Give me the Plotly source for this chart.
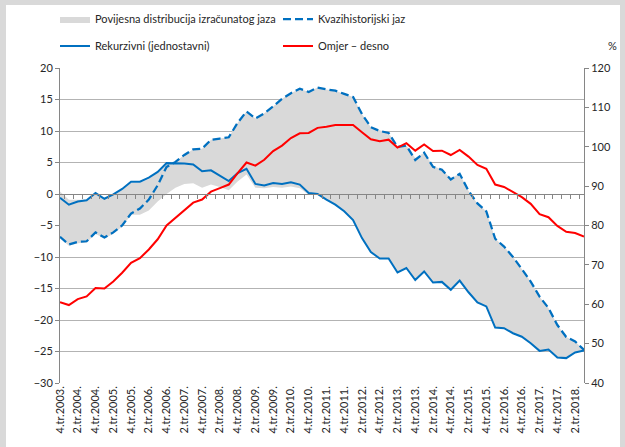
import plotly.graph_objects as go

# Quarters 4.tr.2003. .. 3.tr.2018.
quarters = []
for y in range(2003, 2019):
    for q in range(1, 5):
        if (y == 2003 and q < 4) or (y == 2018 and q > 3):
            continue
        quarters.append(f"{q}.tr.{y}.")

tick_labels = quarters[::2]

rekurzivni = [-0.6, -1.7, -1.2, -1.0, 0.15, -0.75, -0.05, 0.8, 1.95, 1.95,
              2.6, 3.5, 4.9, 4.9, 4.85, 4.7, 3.6, 3.75, 2.85, 2.05,
              3.3, 4.0, 1.6, 1.35, 1.75, 1.6, 1.85, 1.5, 0.15, 0.0,
              -0.9, -1.7, -2.75, -4.15, -7.0, -9.2, -10.25, -10.25, -12.45, -11.75,
              -13.65, -12.3, -14.05, -13.95, -15.2, -13.75, -15.6, -17.2, -17.85, -21.2,
              -21.3, -22.1, -22.65, -23.7, -24.9, -24.7, -25.95, -26.05, -25.15, -24.85]

kvazihistorijski = [-6.8, -8.0, -7.6, -7.5, -6.1, -6.9, -6.1, -5.0, -3.1, -2.3,
                    -0.9, 1.4, 4.3, 5.1, 6.2, 7.1, 7.2, 8.6, 8.8, 9.0,
                    11.3, 13.1, 12.0, 12.8, 13.9, 15.1, 16.0, 16.7, 16.2, 16.9,
                    16.6, 16.4, 15.9, 15.4, 12.7, 10.6, 10.0, 9.7, 7.45, 7.7,
                    5.4, 6.55, 4.3, 3.85, 2.3, 3.2, 0.5, -1.5, -2.75, -7.1,
                    -8.35, -10.0, -11.9, -13.9, -16.3, -18.1, -20.8, -22.7, -23.4, -24.75]

omjer = [60.5, 59.8, 61.3, 62.0, 64.1, 64.0, 65.8, 68.0, 70.5, 71.7,
         73.9, 76.5, 80.0, 81.9, 83.8, 85.8, 86.6, 88.6, 89.5, 90.4,
         93.3, 96.0, 95.2, 96.7, 98.9, 100.3, 102.2, 103.4, 103.5, 104.8,
         105.1, 105.5, 105.5, 105.5, 103.7, 101.9, 101.4, 101.8, 99.8, 100.9,
         99.0, 100.6, 98.9, 99.0, 97.9, 99.2, 97.5, 95.4, 94.4, 90.4,
         89.8, 88.4, 87.2, 85.5, 82.9, 82.1, 79.9, 78.4, 78.1, 77.2]

band_upper = [0.4, -0.9, -0.9, -0.9, 0.1, -0.7, -0.1, 0.7, 1.8, 1.8,
              2.4, 3.4, 4.9, 5.1, 6.2, 7.1, 7.2, 8.6, 8.8, 9.0,
              11.3, 13.1, 12.0, 12.8, 13.9, 15.1, 16.0, 16.7, 16.2, 16.9,
              16.6, 16.4, 15.9, 15.4, 12.7, 10.6, 10.1, 9.7, 7.6, 7.7,
              5.7, 6.55, 4.5, 3.85, 2.5, 3.2, 0.5, -1.5, -2.75, -7.1,
              -8.35, -10.0, -11.9, -13.9, -16.3, -18.1, -20.8, -22.7, -23.4, -24.75]

band_lower = [-7.0, -8.2, -7.8, -7.7, -6.3, -7.1, -6.3, -5.2, -3.3, -3.3,
              -2.6, -1.2, 0.0, 1.0, 1.6, 1.7, 1.0, 1.5, 1.1, 0.6,
              2.0, 3.1, 1.0, 0.9, 1.1, 1.0, 1.2, 0.9, -0.1, -0.1,
              -0.9, -1.7, -2.75, -4.15, -7.0, -9.2, -10.25, -10.25, -12.45, -11.75,
              -13.65, -12.3, -14.05, -13.95, -15.2, -13.75, -15.6, -17.2, -17.85, -21.2,
              -21.3, -22.1, -22.65, -23.7, -24.9, -24.7, -25.95, -26.05, -25.15, -24.85]

FONT = "Lato"
BLUE = "#0070c0"
RED = "#ff0000"
GRAY_BAND = "#d9d9d9"
AXIS = "#868686"
GRID = "#b3b3b3"
TXT = "#262626"

fig = go.Figure()

fig.add_trace(go.Scatter(x=quarters, y=band_lower, mode="lines",
                         line=dict(width=0, color=GRAY_BAND), showlegend=False,
                         hoverinfo="skip"))
fig.add_trace(go.Scatter(x=quarters, y=band_upper, mode="lines", fill="tonexty",
                         fillcolor=GRAY_BAND, line=dict(width=0, color=GRAY_BAND),
                         name="Povijesna distribucija izračunatog jaza", legend="legend"))
fig.add_trace(go.Scatter(x=quarters, y=kvazihistorijski, mode="lines",
                         line=dict(color=BLUE, width=2.25, dash="8px,4px"),
                         name="Kvazihistorijski jaz", legend="legend"))
fig.add_trace(go.Scatter(x=quarters, y=rekurzivni, mode="lines",
                         line=dict(color=BLUE, width=2),
                         name="Rekurzivni (jednostavni)", legend="legend2"))
fig.add_trace(go.Scatter(x=quarters, y=omjer, mode="lines",
                         line=dict(color=RED, width=2),
                         name="Omjer – desno", legend="legend2",
                         xaxis="x2", yaxis="y2"))

W, H = 625, 447
ml, mr, mt, mb = 60, 41, 68, 64
pw, ph = W - ml - mr, H - mt - mb

def px_x(x):
    return (x - ml) / pw

def px_y(y):
    return (H - mb - y) / ph

legend_common = dict(orientation="h", xref="container", yref="container",
                     xanchor="left", yanchor="middle", entrywidth=178,
                     traceorder="normal",
                     font=dict(family=FONT, size=11, color=TXT),
                     bgcolor="rgba(0,0,0,0)", itemclick=False)

fig.update_layout(
    width=W, height=H,
    margin=dict(l=ml, r=mr, t=mt, b=mb, autoexpand=False),
    paper_bgcolor="#d9d9d9",
    plot_bgcolor="white",
    font=dict(family=FONT, size=11, color=TXT),
    legend=dict(**legend_common, x=55 / W, y=1 - 19 / H),
    legend2=dict(**legend_common, x=55 / W, y=1 - 46 / H),
    xaxis=dict(type="category", categoryarray=quarters, categoryorder="array",
               tickmode="array", tickvals=tick_labels, ticktext=tick_labels,
               tickangle=-90, showgrid=False, showline=False, ticks="",
               zeroline=False, automargin=False, tickfont=dict(size=11, color=TXT)),
    xaxis2=dict(type="category", categoryarray=quarters, categoryorder="array",
                overlaying="x", anchor="free", position=0.6, side="bottom",
                showline=True, linecolor=AXIS, linewidth=1,
                ticks="outside", ticklen=4, tickcolor=AXIS, tickson="boundaries",
                tickmode="linear", dtick=1, showticklabels=False, showgrid=False,
                zeroline=False, automargin=False),
    yaxis=dict(range=[-30, 20], dtick=5, showgrid=True, gridcolor=GRID, gridwidth=1,
               zeroline=False, showline=True, linecolor=AXIS, ticks="outside",
               ticklen=4, tickcolor=AXIS, automargin=False,
               tickfont=dict(size=11, color=TXT)),
    yaxis2=dict(range=[40, 120], dtick=10, overlaying="y", side="right",
                anchor="x2", showgrid=False, zeroline=False, showline=True,
                linecolor=AXIS, ticks="outside", ticklen=4, tickcolor=AXIS,
                automargin=False, tickfont=dict(size=11, color=TXT)),
    shapes=[dict(type="rect", xref="paper", yref="paper", layer="below",
                 x0=px_x(6), x1=px_x(620), y0=px_y(460), y1=px_y(5),
                 fillcolor="white", line=dict(width=0))],
    annotations=[dict(text="%", xref="paper", yref="paper", x=px_x(612), y=px_y(45),
                      showarrow=False, xanchor="center", yanchor="middle",
                      font=dict(family=FONT, size=11, color=TXT))],
)

fig.write_html("out.html",
               config={"displayModeBar": False},
               post_script="document.body.style.margin='0';document.body.style.overflow='hidden';")
